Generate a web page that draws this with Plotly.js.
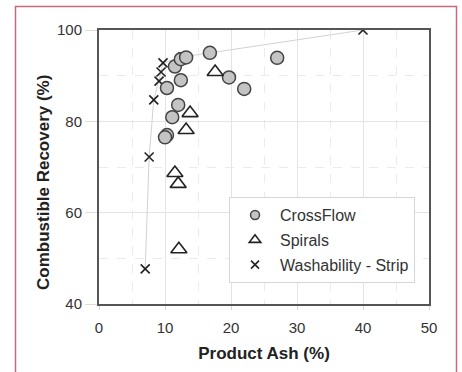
<!DOCTYPE html>
<html>
<head>
<meta charset="utf-8">
<script src="https://cdn.plot.ly/plotly-3.0.1.min.js"></script>
<style>
html,body{margin:0;padding:0;background:#fff;}
#chart{width:462px;height:372px;}
</style>
</head>
<body>
<div id="chart"></div>
<script>
// Data
const crossflowAsh = [16.8, 27.0, 19.7, 22.0, 11.5, 12.4, 10.3, 12.0, 11.1, 10.3, 10.0, 12.4, 13.2];
const crossflowRec = [95.0, 93.9, 89.6, 87.1, 92.0, 89.0, 87.3, 83.6, 80.9, 77.0, 76.5, 93.6, 94.0];

const spiralsAsh = [17.6, 13.8, 13.2, 11.5, 12.0, 12.1];
const spiralsRec = [90.8, 81.8, 78.1, 68.7, 66.3, 52.0];

const washAsh = [7.0, 7.6, 8.3, 9.1, 9.4, 9.7, 12.7, 40.0];
const washRec = [47.7, 72.2, 84.7, 88.8, 90.8, 92.8, 94.1, 100.0];

const seriesNames = ['CrossFlow', 'Spirals', 'Washability - Strip'];
const xTicks = [0, 10, 20, 30, 40, 50];
const yTicks = [40, 60, 80, 100];
const xTitle = 'Product Ash (%)';
const yTitle = 'Combustible Recovery (%)';

const FONT = 'Liberation Sans, Arial, sans-serif';

const circleMarker = {symbol: 'circle', color: '#c4c4c4', line: {color: '#444', width: 1.5}};
const triMarker = {symbol: 'triangle-up-open', color: '#222', line: {color: '#222', width: 1.6}};
const xMarker = {symbol: 'x-thin-open', color: '#222', line: {color: '#222', width: 1.6}};

const traces = [
  {
    x: washAsh, y: washRec, name: seriesNames[2], type: 'scatter', mode: 'lines+markers',
    line: {color: '#d2d2d2', width: 1},
    marker: Object.assign({size: 9}, xMarker),
    showlegend: false
  },
  {
    x: crossflowAsh, y: crossflowRec, name: seriesNames[0], type: 'scatter', mode: 'markers',
    marker: Object.assign({size: 13}, circleMarker),
    showlegend: false
  },
  {
    x: spiralsAsh, y: spiralsRec, name: seriesNames[1], type: 'scatter', mode: 'markers',
    marker: Object.assign({size: 14}, triMarker),
    showlegend: false
  },
  // legend-only entries (smaller symbols, as in the reference legend)
  {x: [null], y: [null], name: seriesNames[0], type: 'scatter', mode: 'markers',
   marker: Object.assign({size: 9}, circleMarker), legendgroup: 'a'},
  {x: [null], y: [null], name: seriesNames[1], type: 'scatter', mode: 'markers',
   marker: Object.assign({size: 10}, triMarker), legendgroup: 'b'},
  {x: [null], y: [null], name: seriesNames[2], type: 'scatter', mode: 'markers',
   marker: Object.assign({size: 8}, xMarker), legendgroup: 'c'}
];

const layout = {
  width: 462, height: 372,
  margin: {l: 99, r: 33, t: 30, b: 68},
  paper_bgcolor: '#fff', plot_bgcolor: '#fff',
  font: {family: FONT, size: 15, color: '#333'},
  showlegend: true,
  legend: {
    x: 0.394, y: 0.39, xanchor: 'left', yanchor: 'top',
    bordercolor: '#d6d6d6', borderwidth: 1, bgcolor: '#fff',
    font: {family: FONT, size: 16, color: '#333'},
    tracegroupgap: 1, itemwidth: 40, traceorder: 'grouped'
  },
  xaxis: {
    range: [0, 50], tickvals: xTicks, ticktext: xTicks.map(String),
    showline: true, mirror: true, linecolor: '#555', linewidth: 2,
    showgrid: true, gridcolor: '#e4e4e4', gridwidth: 1,
    minor: {dtick: 5, showgrid: true, gridcolor: '#ebebeb', griddash: 'dash', gridwidth: 1},
    ticks: 'outside', ticklen: 4, tickcolor: '#d8d8d8', ticklabelstandoff: 5,
    zeroline: false, fixedrange: true,
    tickfont: {family: FONT, size: 15, color: '#333'},
    title: {text: '<b>' + xTitle + '</b>', font: {family: FONT, size: 17, color: '#222'}, standoff: 12}
  },
  yaxis: {
    range: [40, 100], tickvals: yTicks, ticktext: yTicks.map(String),
    showline: true, mirror: true, linecolor: '#555', linewidth: 2,
    showgrid: true, gridcolor: '#e4e4e4', gridwidth: 1,
    minor: {dtick: 10, showgrid: true, gridcolor: '#ebebeb', griddash: 'dash', gridwidth: 1},
    ticks: 'outside', ticklen: 12, tickcolor: '#dedede',
    zeroline: false, fixedrange: true,
    tickfont: {family: FONT, size: 15, color: '#333'}
  },
  annotations: [
    {text: '<b>' + yTitle + '</b>', xref: 'paper', yref: 'paper',
     x: (44 - 99) / 330, y: (304 - 183) / 274, xanchor: 'center', yanchor: 'middle',
     textangle: -90, showarrow: false, font: {family: FONT, size: 17, color: '#222'}}
  ],
  shapes: [
    {type: 'path', xref: 'paper', yref: 'paper',
     path: 'M ' + ((15.5 - 99) / 330) + ' ' + ((304 - 400) / 274) +
           ' L ' + ((15.5 - 99) / 330) + ' ' + ((304 - 6.5) / 274) +
           ' L ' + ((456.5 - 99) / 330) + ' ' + ((304 - 6.5) / 274) +
           ' L ' + ((456.5 - 99) / 330) + ' ' + ((304 - 400) / 274),
     line: {color: '#c8687c', width: 1.5}, layer: 'above'}
  ]
};

Plotly.newPlot('chart', traces, layout, {displayModeBar: false, staticPlot: true});
</script>
</body>
</html>
